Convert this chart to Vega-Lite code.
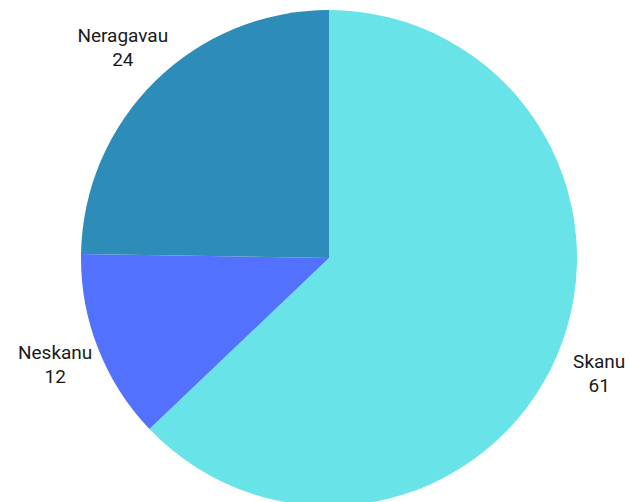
{
  "$schema": "https://vega.github.io/schema/vega-lite/v6.json",
  "width": 600,
  "height": 488,
  "autosize": {"type": "none"},
  "padding": {"left": 29, "top": 14, "right": 0, "bottom": 0},
  "background": "white",
  "config": {"view": {"stroke": null}},
  "data": {
    "values": [
      {"category": "Skanu", "value": 61, "order": 1},
      {"category": "Neskanu", "value": 12, "order": 2},
      {"category": "Neragavau", "value": 24, "order": 3}
    ]
  },
  "encoding": {
    "theta": {"field": "value", "type": "quantitative", "stack": true},
    "order": {"field": "order", "type": "quantitative"}
  },
  "layer": [
    {
      "mark": {"type": "arc", "radius": 248},
      "encoding": {
        "color": {
          "field": "category",
          "type": "nominal",
          "scale": {"domain": ["Skanu", "Neskanu", "Neragavau"], "range": ["#68E4E9", "#5271FF", "#2E8CB8"]},
          "legend": null
        }
      }
    },
    {
      "mark": {"type": "text", "radius": 294, "dy": -12, "fontSize": 19, "font": "Roboto", "color": "#1a1a1a", "align": "center", "baseline": "middle"},
      "encoding": {"text": {"field": "category", "type": "nominal"}}
    },
    {
      "mark": {"type": "text", "radius": 294, "dy": 12, "fontSize": 19, "font": "Roboto", "color": "#1a1a1a", "align": "center", "baseline": "middle"},
      "encoding": {"text": {"field": "value", "type": "quantitative"}}
    }
  ]
}
